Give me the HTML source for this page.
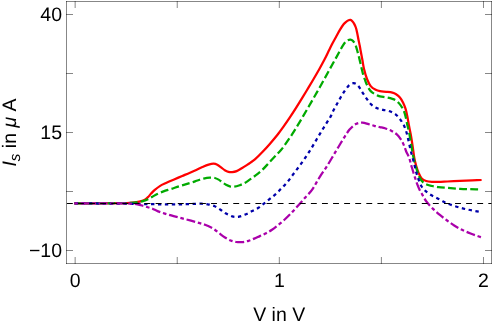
<!DOCTYPE html>
<html><head><meta charset="utf-8"><title>Plot</title>
<style>html,body{margin:0;padding:0;background:#fff;}body{width:493px;height:322px;overflow:hidden;font-family:"Liberation Sans",sans-serif;}svg{display:block;}</style>
</head><body>
<svg width="493" height="322" viewBox="0 0 493 322">
<rect width="493" height="322" fill="#fff"/>
<g stroke="#000" stroke-opacity="0.47" stroke-width="1" fill="none">
<path d="M66.00 1.50H492.00"/><path d="M66.00 263.50H492.00"/><path d="M66.50 1.00V264.00"/><path d="M491.50 1.00V264.00"/>
<path d="M75.15 264.00V257.00 M75.15 1.00V8.00 M177.24 264.00V257.00 M177.24 1.00V8.00 M279.32 264.00V257.00 M279.32 1.00V8.00 M381.40 264.00V257.00 M381.40 1.00V8.00 M483.49 264.00V257.00 M483.49 1.00V8.00 M66.00 14.50H73.00 M492.00 14.50H485.00 M66.00 73.50H73.00 M492.00 73.50H485.00 M66.00 132.50H73.00 M492.00 132.50H485.00 M66.00 191.50H73.00 M492.00 191.50H485.00 M66.00 250.50H73.00 M492.00 250.50H485.00"/></g>
<path d="M74.20 203.30C90.80 203.27 107.40 203.32 124.00 203.20C126.00 203.19 128.01 203.08 130.00 202.90C132.07 202.71 134.14 202.43 136.20 202.10C137.88 201.83 139.57 201.57 141.20 201.10C142.47 200.73 143.77 200.27 144.90 199.60C146.03 198.93 147.05 198.02 148.00 197.10C149.12 196.02 150.03 194.73 151.10 193.60C152.30 192.33 153.48 191.04 154.80 189.90C156.38 188.54 158.03 187.19 159.80 186.10C161.76 184.89 163.91 183.98 166.00 183.00C168.47 181.84 170.99 180.78 173.50 179.70C176.39 178.45 179.30 177.23 182.20 176.00C184.80 174.90 187.41 173.83 190.00 172.70C192.08 171.79 194.14 170.85 196.20 169.90C198.27 168.95 200.30 167.90 202.40 167.00C204.44 166.13 206.48 165.22 208.60 164.60C210.22 164.12 211.95 163.68 213.60 163.70C214.85 163.71 216.17 164.14 217.30 164.70C218.67 165.38 219.85 166.48 221.10 167.40C222.35 168.31 223.48 169.42 224.80 170.20C225.95 170.88 227.22 171.47 228.50 171.80C229.68 172.10 230.98 172.21 232.20 172.10C233.68 171.97 235.22 171.67 236.60 171.10C238.56 170.30 240.36 169.08 242.20 168.00C243.86 167.02 245.48 165.95 247.10 164.90C248.25 164.15 249.38 163.39 250.50 162.60C251.98 161.56 253.55 160.60 254.90 159.40C257.52 157.07 259.97 154.53 262.40 152.00C264.93 149.36 267.39 146.65 269.80 143.90C272.36 140.98 274.89 138.04 277.30 135.00C279.46 132.27 281.48 129.43 283.50 126.60C285.61 123.63 287.68 120.63 289.70 117.60C291.91 114.30 294.07 110.96 296.20 107.60C298.30 104.29 300.35 100.94 302.40 97.60C304.48 94.21 306.55 90.81 308.60 87.40C310.28 84.61 311.96 81.81 313.60 79.00C315.69 75.41 317.77 71.82 319.80 68.20C321.40 65.35 323.00 62.50 324.50 59.60C326.17 56.37 327.70 53.07 329.30 49.80C330.33 47.70 331.32 45.58 332.40 43.50C333.59 41.21 334.85 38.96 336.10 36.70C337.35 34.43 338.56 32.12 339.90 29.90C341.06 27.99 342.25 26.07 343.60 24.30C344.31 23.37 345.19 22.54 346.10 21.80C346.86 21.18 347.71 20.59 348.60 20.20C349.15 19.96 349.85 19.75 350.40 19.90C351.09 20.09 351.78 20.65 352.30 21.20C353.05 21.99 353.68 22.94 354.20 23.90C354.91 25.20 355.55 26.58 356.00 28.00C356.58 29.82 356.90 31.73 357.30 33.60C357.74 35.66 358.08 37.74 358.50 39.80C358.92 41.87 359.39 43.93 359.80 46.00C360.09 47.49 360.32 49.00 360.60 50.50C361.19 53.67 361.82 56.83 362.40 60.00C362.92 62.83 363.22 65.71 363.90 68.50C364.76 72.04 365.69 75.61 367.00 79.00C367.96 81.48 369.07 84.07 370.70 86.10C371.97 87.67 373.91 88.82 375.70 89.80C377.01 90.52 378.53 90.92 380.00 91.20C382.03 91.59 384.14 91.55 386.20 91.80C388.27 92.05 390.39 92.19 392.40 92.70C393.69 93.03 394.97 93.59 396.10 94.30C397.47 95.16 398.85 96.17 399.90 97.40C401.15 98.87 402.13 100.65 403.00 102.40C403.99 104.39 404.83 106.48 405.50 108.60C406.27 111.05 406.79 113.58 407.30 116.10C407.89 118.98 408.26 121.91 408.80 124.80C409.43 128.14 410.21 131.45 410.80 134.80C411.54 138.95 412.17 143.13 412.80 147.30C413.34 150.86 413.66 154.46 414.30 158.00C414.76 160.53 415.39 163.03 416.10 165.50C416.82 168.00 417.57 170.52 418.60 172.90C419.44 174.85 420.30 176.99 421.70 178.50C422.80 179.69 424.52 180.49 426.10 181.00C428.05 181.63 430.22 181.75 432.30 181.90C434.36 182.05 436.43 181.96 438.50 181.90C441.40 181.82 444.30 181.63 447.20 181.50C451.47 181.30 455.73 181.09 460.00 180.90C464.13 180.72 468.27 180.57 472.40 180.40C475.47 180.27 478.53 180.13 481.60 180.00" fill="none" stroke="#ff0000" stroke-width="2.25" stroke-linejoin="round"/>
<path d="M74.20 203.30C90.80 203.27 107.40 203.32 124.00 203.20C126.00 203.19 128.00 203.06 130.00 202.90C132.50 202.70 135.02 202.48 137.50 202.10C139.58 201.78 141.67 201.36 143.70 200.80C145.17 200.39 146.62 199.85 148.00 199.20C149.52 198.48 150.93 197.52 152.40 196.70C154.03 195.79 155.62 194.80 157.30 194.00C159.32 193.04 161.40 192.17 163.50 191.40C165.96 190.50 168.51 189.82 171.00 189.00C173.91 188.05 176.79 187.02 179.70 186.10C183.12 185.02 186.56 184.02 190.00 183.00C190.83 182.75 191.68 182.57 192.50 182.30C194.18 181.74 195.82 181.06 197.50 180.50C199.55 179.82 201.60 179.07 203.70 178.60C205.73 178.14 207.83 177.81 209.90 177.70C211.53 177.61 213.22 177.66 214.80 178.00C216.12 178.29 217.42 178.92 218.60 179.60C219.92 180.35 221.05 181.42 222.30 182.30C223.52 183.16 224.69 184.10 226.00 184.80C227.19 185.44 228.49 185.99 229.80 186.30C231.19 186.63 232.69 186.86 234.10 186.70C235.99 186.49 237.88 185.84 239.70 185.20C241.41 184.60 243.12 183.89 244.70 183.00C246.55 181.96 248.24 180.61 250.00 179.40C251.64 178.28 253.33 177.22 254.90 176.00C257.46 174.02 260.05 172.02 262.40 169.80C265.02 167.32 267.33 164.53 269.80 161.90C271.90 159.66 274.00 157.43 276.10 155.20C277.73 153.47 279.46 151.81 281.00 150.00C282.36 148.41 283.59 146.71 284.80 145.00C287.32 141.44 289.82 137.86 292.20 134.20C294.35 130.89 296.35 127.48 298.40 124.10C299.95 121.54 301.48 118.98 303.00 116.40C304.88 113.21 306.75 110.01 308.60 106.80C310.68 103.21 312.74 99.60 314.80 96.00C316.47 93.07 318.15 90.14 319.80 87.20C321.45 84.27 323.08 81.34 324.70 78.40C326.38 75.37 328.03 72.33 329.70 69.30C331.76 65.56 333.83 61.83 335.90 58.10C337.43 55.33 338.96 52.56 340.50 49.80C341.32 48.33 342.09 46.82 343.00 45.40C343.76 44.22 344.55 43.01 345.50 42.00C346.18 41.28 347.02 40.63 347.90 40.20C348.65 39.83 349.60 39.50 350.40 39.60C351.26 39.70 352.23 40.21 352.90 40.80C353.70 41.51 354.29 42.53 354.80 43.50C355.43 44.70 355.86 46.01 356.30 47.30C356.66 48.35 356.91 49.43 357.20 50.50C357.91 53.13 358.65 55.76 359.30 58.40C360.05 61.42 360.68 64.47 361.40 67.50C361.98 69.97 362.50 72.46 363.20 74.90C363.67 76.53 364.31 78.11 364.90 79.70C365.54 81.41 366.07 83.18 366.90 84.80C368.01 86.98 369.04 89.38 370.70 91.10C372.41 92.88 374.82 94.06 377.00 95.30C377.92 95.82 378.97 96.16 380.00 96.40C382.03 96.86 384.15 96.99 386.20 97.40C388.28 97.82 390.38 98.27 392.40 98.90C393.68 99.30 395.01 99.76 396.10 100.50C397.31 101.32 398.35 102.47 399.30 103.60C400.45 104.97 401.54 106.44 402.40 108.00C403.37 109.77 404.16 111.68 404.80 113.60C405.46 115.61 405.84 117.73 406.30 119.80C406.67 121.46 406.93 123.14 407.30 124.80C407.86 127.28 408.61 129.71 409.10 132.20C409.91 136.38 410.47 140.61 411.20 144.80C411.97 149.21 412.69 153.62 413.60 158.00C414.12 160.52 414.81 163.02 415.50 165.50C416.08 167.58 416.69 169.66 417.40 171.70C418.13 173.79 418.77 175.96 419.80 177.90C420.63 179.46 421.70 181.02 423.00 182.20C424.20 183.29 425.78 184.08 427.30 184.70C428.88 185.35 430.62 185.63 432.30 186.00C434.35 186.46 436.42 186.93 438.50 187.20C441.38 187.57 444.30 187.68 447.20 187.90C451.47 188.22 455.73 188.59 460.00 188.80C465.33 189.06 470.67 189.14 476.00 189.30C477.33 189.34 478.67 189.37 480.00 189.40" fill="none" stroke="#00aa00" stroke-width="2.25" stroke-linejoin="round" stroke-dasharray="7.85 3.273" stroke-dashoffset="0.08"/>
<path d="M74.20 203.30C92.80 203.47 111.40 203.58 130.00 203.80C140.00 203.92 150.00 204.18 160.00 204.30C166.57 204.38 173.13 204.46 179.70 204.40C183.80 204.36 187.90 204.14 192.00 204.00C194.57 203.91 197.13 203.78 199.70 203.70C200.20 203.68 200.70 203.66 201.20 203.70C203.37 203.86 205.57 203.91 207.70 204.30C210.07 204.74 212.49 205.27 214.70 206.20C216.76 207.07 218.61 208.47 220.50 209.70C222.41 210.94 224.13 212.48 226.10 213.60C228.06 214.71 230.17 215.69 232.30 216.40C233.47 216.79 234.76 216.85 236.00 216.90C237.03 216.95 238.11 216.96 239.10 216.70C241.44 216.09 243.77 215.25 246.00 214.30C248.13 213.39 250.14 212.18 252.20 211.10C254.27 210.01 256.41 209.03 258.40 207.80C259.81 206.93 261.09 205.83 262.40 204.80C264.89 202.86 267.34 200.87 269.80 198.90C271.87 197.24 274.02 195.66 276.00 193.90C277.35 192.70 278.54 191.31 279.80 190.00C282.28 187.41 284.90 184.94 287.20 182.20C289.86 179.04 292.21 175.61 294.70 172.30C297.18 169.01 299.72 165.76 302.10 162.40C304.69 158.73 307.20 155.00 309.60 151.20C312.17 147.13 314.53 142.93 317.00 138.80C319.50 134.63 321.96 130.45 324.50 126.30C326.53 122.98 328.79 119.79 330.70 116.40C331.76 114.52 332.43 112.43 333.40 110.50C334.46 108.40 335.66 106.36 336.80 104.30C337.96 102.20 339.09 100.08 340.30 98.00C341.49 95.94 342.68 93.87 344.00 91.90C345.31 89.94 346.65 87.95 348.20 86.20C348.98 85.32 349.97 84.55 351.00 84.00C351.84 83.55 352.88 83.17 353.80 83.20C354.71 83.23 355.75 83.64 356.50 84.20C357.55 84.98 358.42 86.11 359.20 87.20C360.55 89.08 361.64 91.15 362.90 93.10C364.11 94.98 365.29 96.89 366.60 98.70C367.99 100.62 369.28 102.70 371.00 104.30C372.62 105.80 374.59 107.09 376.60 108.00C378.62 108.92 380.92 109.26 383.10 109.80C385.35 110.36 387.76 110.48 389.90 111.30C392.09 112.14 394.27 113.34 396.10 114.80C397.81 116.17 399.20 118.01 400.50 119.80C401.90 121.74 403.20 123.82 404.20 126.00C405.30 128.39 406.07 130.96 406.80 133.50C407.60 136.29 408.15 139.16 408.80 142.00C409.48 145.00 410.07 148.02 410.80 151.00C411.47 153.75 412.28 156.46 413.00 159.20C413.65 161.70 414.28 164.20 414.90 166.70C415.41 168.76 415.82 170.86 416.40 172.90C417.05 175.19 417.77 177.47 418.60 179.70C419.40 181.84 420.13 184.07 421.30 186.00C422.39 187.80 423.85 189.46 425.40 190.90C427.08 192.46 429.04 193.79 431.00 195.00C432.97 196.22 435.15 197.10 437.20 198.20C438.99 199.16 440.70 200.26 442.50 201.20C444.14 202.06 445.78 202.93 447.50 203.60C450.78 204.87 454.13 206.00 457.50 207.00C460.76 207.97 464.08 208.78 467.40 209.50C471.11 210.31 474.86 210.92 478.60 211.60C479.60 211.78 480.60 211.93 481.60 212.10" fill="none" stroke="#0000aa" stroke-width="2.25" stroke-linejoin="round" stroke-dasharray="3.4 3.526" stroke-dashoffset="6.28"/>
<path d="M74.20 203.30C90.80 203.33 107.40 203.31 124.00 203.40C126.00 203.41 128.00 203.47 130.00 203.60C132.50 203.77 135.04 203.87 137.50 204.30C139.60 204.67 141.64 205.40 143.70 206.00C145.78 206.60 147.83 207.27 149.90 207.90C150.77 208.17 151.67 208.35 152.50 208.70C154.20 209.42 155.78 210.42 157.50 211.10C159.92 212.06 162.41 212.83 164.90 213.60C167.78 214.49 170.69 215.30 173.60 216.10C176.49 216.90 179.40 217.63 182.30 218.40C185.20 219.17 188.10 219.92 191.00 220.70C193.90 221.48 196.81 222.25 199.70 223.10C201.48 223.62 203.27 224.14 205.00 224.80C207.10 225.60 209.18 226.50 211.20 227.50C212.35 228.07 213.45 228.76 214.50 229.50C216.22 230.72 217.82 232.12 219.50 233.40C221.32 234.79 223.08 236.27 225.00 237.50C226.78 238.64 228.65 239.72 230.60 240.50C232.38 241.22 234.30 241.74 236.20 242.00C238.23 242.28 240.36 242.30 242.40 242.10C244.49 241.90 246.58 241.40 248.60 240.80C250.52 240.23 252.35 239.38 254.20 238.60C256.08 237.81 257.93 236.93 259.80 236.10C261.67 235.27 263.59 234.55 265.40 233.60C267.66 232.41 269.87 231.11 272.00 229.70C273.84 228.48 275.57 227.09 277.30 225.70C279.81 223.69 282.33 221.67 284.70 219.50C287.29 217.13 289.78 214.64 292.20 212.10C294.74 209.44 297.15 206.64 299.60 203.90C301.68 201.58 303.73 199.23 305.80 196.90C307.87 194.57 310.22 192.44 312.00 189.90C314.79 185.91 316.89 181.43 319.50 177.30C321.89 173.50 324.60 169.90 327.00 166.10C329.57 162.03 331.93 157.83 334.40 153.70C336.43 150.30 338.45 146.89 340.50 143.50C341.75 141.42 342.99 139.34 344.30 137.30C345.92 134.77 347.44 132.14 349.30 129.80C350.57 128.20 352.13 126.80 353.70 125.50C354.63 124.73 355.67 123.98 356.80 123.60C358.57 123.01 360.55 122.51 362.40 122.60C364.48 122.71 366.54 123.64 368.60 124.20C370.47 124.71 372.32 125.31 374.20 125.80C376.05 126.28 377.93 126.67 379.80 127.10C381.53 127.50 383.31 127.77 385.00 128.30C387.11 128.97 389.24 129.69 391.20 130.70C393.18 131.72 395.13 132.95 396.80 134.40C398.23 135.65 399.43 137.22 400.50 138.80C401.63 140.46 402.57 142.27 403.40 144.10C404.44 146.40 405.13 148.86 406.10 151.20C407.06 153.50 408.37 155.66 409.20 158.00C410.27 161.03 410.89 164.21 411.80 167.30C412.79 170.65 413.83 173.98 414.90 177.30C415.70 179.78 416.48 182.27 417.40 184.70C418.12 186.60 418.90 188.48 419.80 190.30C420.53 191.78 421.46 193.17 422.30 194.60C423.66 196.90 424.79 199.38 426.40 201.50C428.46 204.21 430.88 206.69 433.30 209.10C435.48 211.26 437.83 213.25 440.20 215.20C442.43 217.05 444.76 218.78 447.10 220.50C449.43 222.22 451.75 223.97 454.20 225.50C456.71 227.07 459.33 228.50 462.00 229.80C464.80 231.17 467.70 232.35 470.60 233.50C473.33 234.58 476.13 235.52 478.90 236.50C479.79 236.82 480.70 237.10 481.60 237.40" fill="none" stroke="#aa00aa" stroke-width="2.25" stroke-linejoin="round" stroke-dasharray="3.6 2.8 8.9 2.784" stroke-dashoffset="0.13"/>
<path d="M66.90 203.50H491.50" stroke="#000" stroke-width="1" stroke-dasharray="5.9 5.19" stroke-dashoffset="0" fill="none"/>
<g font-family="'Liberation Sans', sans-serif" font-size="19.5" fill="#000" style="will-change:transform;text-rendering:geometricPrecision"><text x="62.00" y="21.10" text-anchor="end">40</text><text x="62.00" y="139.10" text-anchor="end">15</text><text x="62.00" y="257.10" text-anchor="end">−10</text><text x="75.15" y="287.40" text-anchor="middle">0</text><text x="279.32" y="287.40" text-anchor="middle">1</text><text x="483.49" y="287.40" text-anchor="middle">2</text><text x="279.20" y="320.80" text-anchor="middle">V in V</text><text transform="translate(15.80 132.50) rotate(-90)" text-anchor="middle"><tspan font-style="italic">I</tspan><tspan font-style="italic" font-size="15.21" dy="4.00">s</tspan><tspan dy="-4.00"> in </tspan><tspan font-style="italic">μ</tspan> A</text></g>
</svg>
</body></html>
